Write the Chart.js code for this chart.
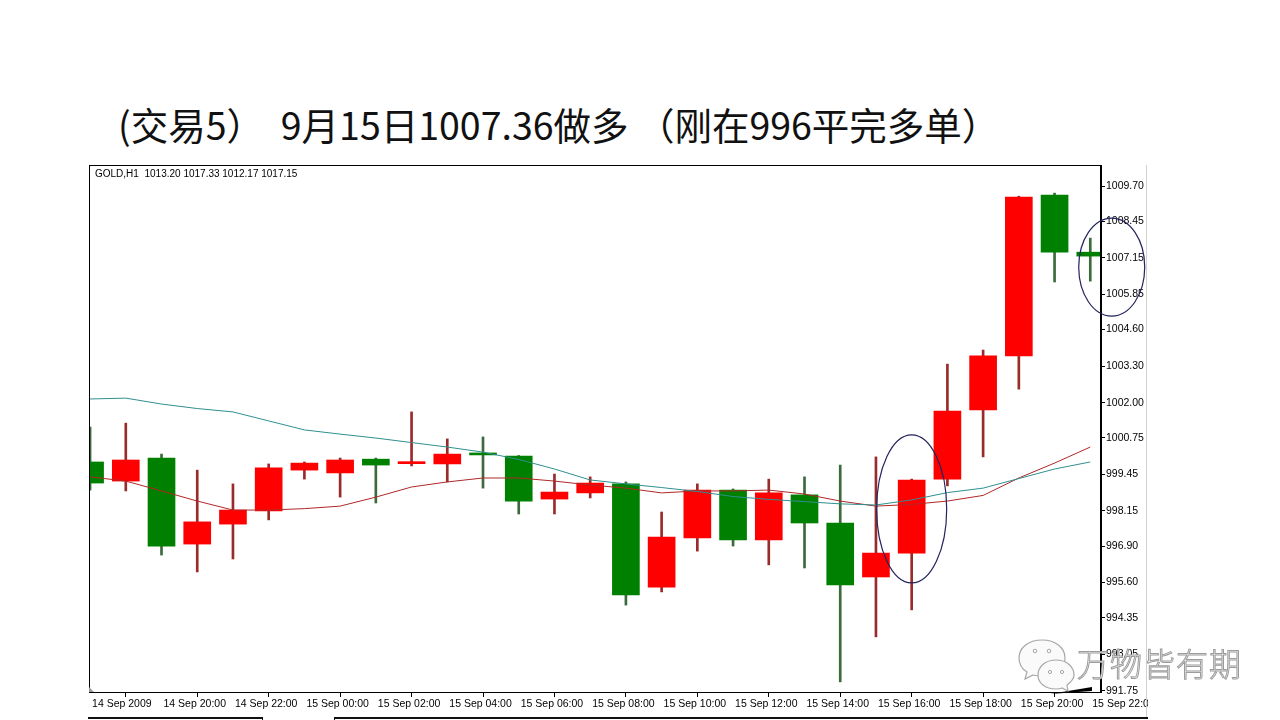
<!DOCTYPE html>
<html><head><meta charset="utf-8">
<script src="https://cdn.jsdelivr.net/npm/chart.js"></script>
<style>
html,body{margin:0;padding:0;background:#fff;width:1280px;height:720px;overflow:hidden;}
#title{position:absolute;left:118px;top:102px;font-family:"Noto Sans CJK SC";font-size:37.5px;line-height:44px;color:#111;white-space:pre;}
#wrap{position:absolute;left:88px;top:163px;width:1060px;height:557px;}
#hdr{position:absolute;left:95px;top:168px;font-family:"Liberation Sans";font-size:10px;line-height:12px;color:#000;white-space:pre;}
#rborder{position:absolute;left:1146px;top:165px;width:1px;height:552px;background:#d0d0d0;}
.ln{position:absolute;background:#111;}
#wm{position:absolute;left:1077px;top:640px;font-family:"Noto Sans CJK SC";font-weight:300;font-size:32px;line-height:44px;color:#f6f6f6;-webkit-text-stroke:1px #9c9c9c;letter-spacing:1px;white-space:pre;}
#icon{position:absolute;left:1016px;top:636px;}
</style></head>
<body>
<div id="title">(交易5）  9月15日1007.36做多 （刚在996平完多单）</div>
<div id="wrap"><canvas id="c"></canvas></div>
<div id="hdr">GOLD,H1  1013.20 1017.33 1012.17 1017.15</div>
<div id="rborder"></div>
<div class="ln" style="left:88px;top:717px;width:175px;height:2px;"></div>
<div class="ln" style="left:262px;top:717px;width:1px;height:3px;"></div>
<div class="ln" style="left:334px;top:717px;width:1px;height:3px;"></div>
<div class="ln" style="left:334px;top:717px;width:814px;height:2px;"></div>
<svg id="icon" width="62" height="58" viewBox="0 0 62 58">
  <path d="M26 4 C12 4 3 12 3 22 C3 28 6 33 11 36 L9 43 L17 39 C20 40 23 40 26 40 C40 40 49 32 49 22 C49 12 40 4 26 4 Z" fill="#fafafa" stroke="#a8a8a8" stroke-width="1.2"/>
  <path d="M40 24 C29 24 22 31 22 39 C22 47 29 53 40 53 C42 53 44 53 46 52 L52 55 L51 49 C55 46 58 43 58 39 C58 31 51 24 40 24 Z" fill="#fafafa" stroke="#a8a8a8" stroke-width="1.2"/>
  <circle cx="19" cy="15" r="1.8" fill="none" stroke="#a8a8a8"/>
  <circle cx="33" cy="15" r="1.8" fill="none" stroke="#a8a8a8"/>
  <circle cx="34" cy="36" r="1.6" fill="none" stroke="#a8a8a8"/>
  <circle cx="46" cy="36" r="1.6" fill="none" stroke="#a8a8a8"/>
</svg>
<div id="wm">万物皆有期</div>
<script>
// ---- data ----
const candleHours = ['14 Sep 18:00','14 Sep 19:00','14 Sep 20:00','14 Sep 21:00','14 Sep 22:00','14 Sep 23:00',
  '15 Sep 00:00','15 Sep 01:00','15 Sep 02:00','15 Sep 03:00','15 Sep 04:00','15 Sep 05:00','15 Sep 06:00',
  '15 Sep 07:00','15 Sep 08:00','15 Sep 09:00','15 Sep 10:00','15 Sep 11:00','15 Sep 12:00','15 Sep 13:00',
  '15 Sep 14:00','15 Sep 15:00','15 Sep 16:00','15 Sep 17:00','15 Sep 18:00','15 Sep 19:00','15 Sep 20:00',
  '15 Sep 21:00','15 Sep 22:00'];
const opens  = [999.89, 999.21, 1000.03, 996.97, 997.68, 998.15, 999.60, 999.50, 999.99, 999.83, 999.82, 1000.21, 1000.10, 998.57, 998.79, 999.11, 995.44, 997.19, 998.89, 997.12, 998.72, 997.72, 995.80, 996.65, 999.28, 1001.74, 1003.66, 1009.38, 1007.35];
const highs  = [1001.13, 1001.27, 1000.17, 999.60, 999.11, 999.82, 999.89, 1000.03, 1000.03, 1001.67, 1000.71, 1000.78, 1000.12, 999.46, 999.36, 999.18, 998.11, 999.11, 998.93, 999.28, 999.36, 999.78, 1000.07, 999.28, 1003.37, 1003.87, 1009.34, 1009.45, 1007.85];
const lows   = [998.89, 998.86, 996.58, 995.98, 996.44, 997.83, 999.28, 998.64, 998.43, 999.75, 999.18, 998.96, 998.04, 998.04, 998.61, 994.80, 995.27, 996.72, 996.90, 996.23, 996.12, 992.07, 993.67, 994.63, 999.04, 1000.07, 1002.48, 1006.29, 1006.32];
const closes = [999.14, 999.96, 996.90, 997.76, 998.18, 999.68, 999.85, 999.96, 999.78, 999.86, 1000.17, 1000.14, 998.50, 998.82, 999.14, 995.16, 997.22, 998.89, 997.12, 998.79, 997.72, 995.52, 996.65, 999.25, 1001.70, 1003.66, 1009.31, 1007.35, 1007.21];
const maFast = [999.36, 999.21, 998.86, 998.50, 998.18, 998.18, 998.23, 998.32, 998.64, 999.00, 999.18, 999.32, 999.32, 999.21, 999.07, 998.96, 998.79, 998.86, 998.86, 998.89, 998.75, 998.50, 998.32, 998.38, 998.50, 998.70, 999.32, 999.85, 1000.42];
const maSlow = [1002.13, 1002.16, 1001.95, 1001.79, 1001.67, 1001.35, 1001.03, 1000.88, 1000.74, 1000.58, 1000.42, 1000.24, 999.98, 999.64, 999.25, 999.11, 998.98, 998.84, 998.66, 998.56, 998.48, 998.40, 998.36, 998.54, 998.80, 998.96, 999.30, 999.64, 999.89];
const xTickLabels = ['14 Sep 2009','14 Sep 20:00','14 Sep 22:00','15 Sep 00:00','15 Sep 02:00','15 Sep 04:00','15 Sep 06:00','15 Sep 08:00','15 Sep 10:00','15 Sep 12:00','15 Sep 14:00','15 Sep 16:00','15 Sep 18:00','15 Sep 20:00','15 Sep 22:00'];
const yTickValues = [991.75, 993.05, 994.35, 995.60, 996.90, 998.15, 999.45, 1000.75, 1002.00, 1003.30, 1004.60, 1005.85, 1007.15, 1008.45, 1009.70];
// annotation ellipses: centre (bar index, price)
const markIndex = [23, 28.6];
const markPrice = [998.22, 1006.82];

// ---- styles ----
const UP = '#ff0000', DOWN = '#008000', UPWICK = '#9a2b2b', DOWNWICK = '#3c6a3c';
const isUp = opens.map((o, i) => closes[i] >= o);

const bodies = opens.map((o, i) => ({x: i, y: [o, closes[i]]}));
const wicks = lows.map((l, i) => ({x: i, y: [l, highs[i]]}));
const fastPts = maFast.map((v, i) => ({x: i, y: v}));
const slowPts = maSlow.map((v, i) => ({x: i, y: v}));

const framePlugin = {
  id: 'frame',
  afterDraw(chart) {
    const {ctx, chartArea: a, scales} = chart;
    ctx.save();
    ctx.strokeStyle = '#000'; ctx.lineWidth = 1;
    ctx.strokeRect(a.left + 0.5, a.top + 0.5, a.right - a.left - 1, a.bottom - a.top);
    // ellipses
    const rx = [35, 33], ry = [74, 49];
    ctx.strokeStyle = '#23235e'; ctx.lineWidth = 1.2;
    markIndex.forEach((m, k) => {
      const cx = scales.x.getPixelForValue(m), cy = scales.y.getPixelForValue(markPrice[k]);
      ctx.beginPath(); ctx.ellipse(cx, cy, rx[k], ry[k], 0, 0, Math.PI * 2); ctx.stroke();
    });
    // shift marker (bottom right) and left marker
    ctx.fillStyle = '#000';
    ctx.beginPath(); ctx.moveTo(a.right - 51, a.bottom + 2); ctx.lineTo(a.right - 9, a.bottom - 5); ctx.lineTo(a.right - 9, a.bottom - 1); ctx.closePath(); ctx.fill();
    ctx.fillStyle = '#999';
    ctx.beginPath(); ctx.moveTo(a.left, a.bottom - 5); ctx.lineTo(a.left + 5, a.bottom); ctx.lineTo(a.left, a.bottom); ctx.closePath(); ctx.fill();
    ctx.restore();
  }
};

new Chart(document.getElementById('c'), {
  type: 'bar',
  data: {
    datasets: [
      {type: 'line', data: slowPts, borderColor: '#2f8f8f', borderWidth: 1, pointRadius: 0, tension: 0, order: 0, clip: 0},
      {type: 'line', data: fastPts, borderColor: '#b02828', borderWidth: 1, pointRadius: 0, tension: 0, order: 0, clip: 0},
      {data: bodies, backgroundColor: isUp.map(u => u ? UP : DOWN), barThickness: 27, minBarLength: 2, grouped: false, order: 1, clip: 0},
      {data: wicks, backgroundColor: isUp.map(u => u ? UPWICK : DOWNWICK), barThickness: 2, grouped: false, order: 2, clip: 0}
    ]
  },
  options: {
    responsive: true, maintainAspectRatio: false, animation: false,
    layout: {padding: {left: 1, top: 2, right: 0, bottom: 0}},
    plugins: {legend: {display: false}, tooltip: {enabled: false}},
    scales: {
      x: {
        type: 'linear', position: 'bottom', min: -0.03, max: 28.3, offset: false,
        afterBuildTicks: s => { s.ticks = xTickLabels.map((_, k) => ({value: k * 2})); },
        afterFit: s => { s.height = 28; s.paddingLeft = 0; s.paddingRight = 0; },
        grid: {drawOnChartArea: false, drawTicks: true, tickLength: 5, color: '#000'},
        border: {display: true, color: '#000'},
        ticks: {autoSkip: false, maxRotation: 0, align: 'start', labelOffset: 2, padding: 1, color: '#000',
          font: {family: 'Liberation Sans', size: 10.5},
          callback: v => xTickLabels[Math.round(v / 2)]}
      },
      y: {
        type: 'linear', position: 'right', min: 991.71, max: 1010.45,
        afterBuildTicks: s => { s.ticks = yTickValues.map(v => ({value: v})); },
        afterFit: s => { s.width = 47; s.paddingTop = 0; s.paddingBottom = 0; },
        grid: {drawOnChartArea: false, drawTicks: true, tickLength: 4, color: '#000'},
        border: {display: true, color: '#000'},
        ticks: {padding: 1, color: '#000', font: {family: 'Liberation Sans', size: 10.5},
          callback: v => Number(v).toFixed(2)}
      }
    }
  },
  plugins: [framePlugin]
});
</script>
</body></html>
